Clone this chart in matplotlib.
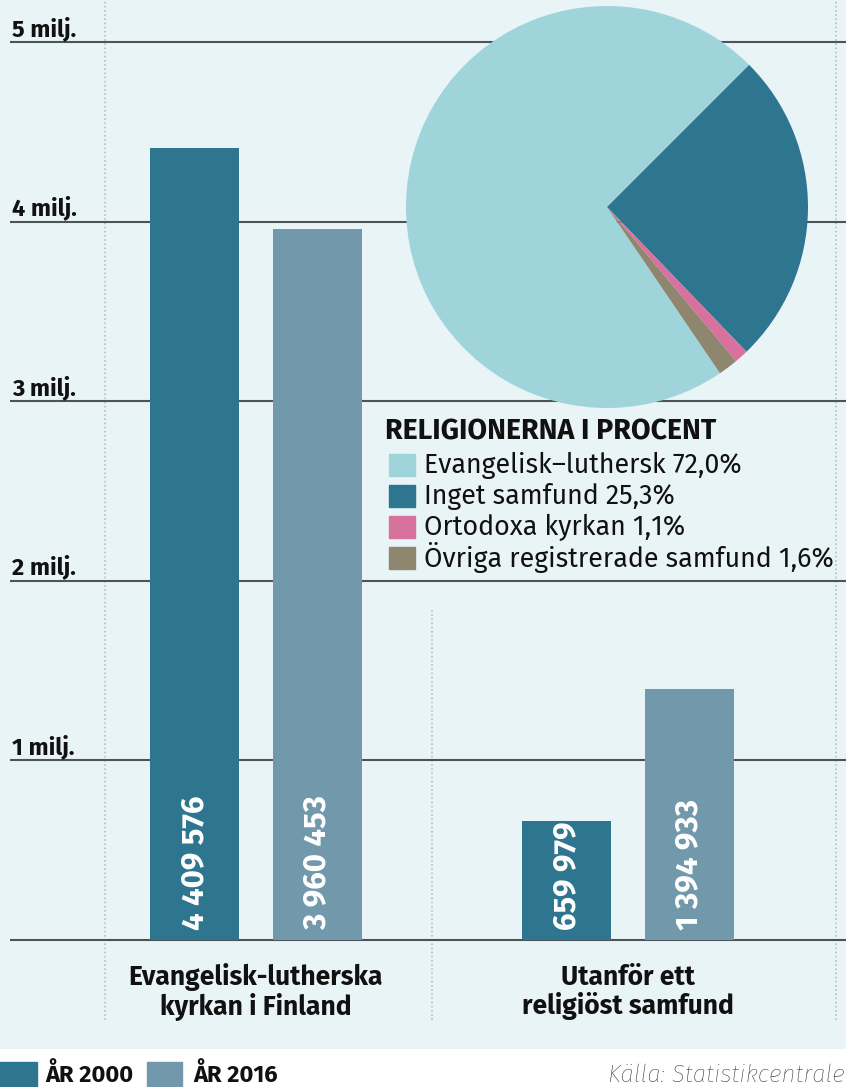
import matplotlib
matplotlib.use('Agg')
import matplotlib.pyplot as plt
from matplotlib.patches import Rectangle
import numpy as np

# --- data ---
categories = ['Evangelisk-lutherska\nkyrkan i Finland', 'Utanför ett\nreligiöst samfund']
years = ['ÅR 2000', 'ÅR 2016']
values_2000 = [4409576, 659979]
values_2016 = [3960453, 1394933]
yticks = [1e6, 2e6, 3e6, 4e6, 5e6]
ytick_labels = ['1 milj.', '2 milj.', '3 milj.', '4 milj.', '5 milj.']

pie_labels = ['Evangelisk–luthersk 72,0%', 'Inget samfund 25,3%',
              'Ortodoxa kyrkan 1,1%', 'Övriga registrerade samfund 1,6%']
pie_values = [72.0, 25.3, 1.1, 1.6]

# --- colours ---
bg = '#e9f4f6'
c2000 = '#2e7590'
c2016 = '#7299ab'
pie_colors = ['#9fd4db', '#2e7590', '#d9719e', '#8f8670']
grid_c = '#4d5356'
dot_c = '#b5c0c4'

bold = dict(family='Fira Sans', weight='bold')
light = dict(family='Fira Sans', weight='normal')

W, H = 846, 1087
fig = plt.figure(figsize=(W / 100, H / 100), dpi=100, facecolor='white')

# main axes: full width, top of figure down to bottom of blue area (px 1049)
ax = fig.add_axes([0, (H - 1049) / H, 1, 1049 / H])
ax.set_facecolor(bg)
for s in ax.spines.values():
    s.set_visible(False)
ax.set_xticks([])
ax.set_yticks([])

px_per_m = 179.6
ax.set_ylim(-(1049 - 940) / px_per_m * 1e6, 940 / px_per_m * 1e6)
ax.set_xlim(-0.688, 1.586)

x = np.arange(len(categories))
bw = 0.239
off = 0.165

# dotted separators
ytop = ax.get_ylim()[1]
ybot = -(1020 - 940) / px_per_m * 1e6
for xf in [105 / W, 432 / W, 836 / W]:
    ymax = ytop
    if xf == 432 / W:
        ymax = (940 - 608) / px_per_m * 1e6
    ax.plot([xf, xf], [ybot, ymax], transform=ax.get_yaxis_transform(),
            color=dot_c, lw=1.2, ls=(0, (1, 1.5)), zorder=1)

# gridlines
ax.hlines([0] + yticks, 10 / W, 1, transform=ax.get_yaxis_transform(),
          color=grid_c, lw=1.5, zorder=2)
for yv, lab in zip(yticks, ytick_labels):
    ax.annotate(lab, xy=(12 / W, yv), xycoords=ax.get_yaxis_transform(),
                xytext=(0, 4.5), textcoords='offset points',
                ha='left', va='baseline', fontsize=17, color='#111111', **bold)

# bars
b1 = ax.bar(x - off, values_2000, bw, color=c2000, zorder=3)
b2 = ax.bar(x + off, values_2016, bw, color=c2016, zorder=3)
for bars, vals in [(b1, values_2000), (b2, values_2016)]:
    for r, v in zip(bars, vals):
        s = '{:,}'.format(v).replace(',', ' ')
        ax.annotate(s, xy=(r.get_x() + r.get_width() / 2, 0),
                    xytext=(0, 7), textcoords='offset points',
                    rotation=90, ha='center', va='bottom',
                    fontsize=22.5, color='white', zorder=4, **bold)

# category labels
for xi, lab in zip(x, categories):
    ax.text(xi, -(992 - 940) / px_per_m * 1e6, lab, ha='center', va='center',
            fontsize=19, linespacing=1.1, color='#111111', **bold)

# pie
pax = fig.add_axes([406 / W, (H - 408) / H, 402 / W, 402 / H])
pax.pie(pie_values, colors=pie_colors, startangle=45 + 3.6 * pie_values[0],
        counterclock=False, wedgeprops=dict(linewidth=0))
pax.set_xlim(-1, 1)
pax.set_ylim(-1, 1)
pax.set_aspect('equal')
pax.patch.set_alpha(0)

# pie legend
fig.text(385 / W, 1 - 432 / H, 'RELIGIONERNA I PROCENT', ha='left', va='center',
         fontsize=20.5, color='#111111', **bold)
for i, (lab, col) in enumerate(zip(pie_labels, pie_colors)):
    yc = 465 + 31 * i
    fig.patches.append(Rectangle((389 / W, 1 - (yc + 11) / H), 26 / W, 22 / H,
                                 transform=fig.transFigure, color=col))
    fig.text(424 / W, 1 - yc / H, lab, ha='left', va='center',
             fontsize=19.3, color='#111111', **light)

# bottom legend
for (lab, col, x0, w, tx) in [(years[0], c2000, 0, 37, 45), (years[1], c2016, 147, 35, 193)]:
    fig.patches.append(Rectangle((x0 / W, 0), w / W, 25 / H,
                                 transform=fig.transFigure, color=col))
    fig.text(tx / W, 1 - 1075 / H, lab, ha='left', va='center',
             fontsize=17, color='#111111', **bold)

fig.text(845 / W, 1 - 1075 / H, 'Källa: Statistikcentrale', ha='right', va='center',
         fontsize=17.5, style='italic', color='#222222', family='Fira Sans', weight='light')

fig.savefig('out.png', dpi=100, facecolor='white')
